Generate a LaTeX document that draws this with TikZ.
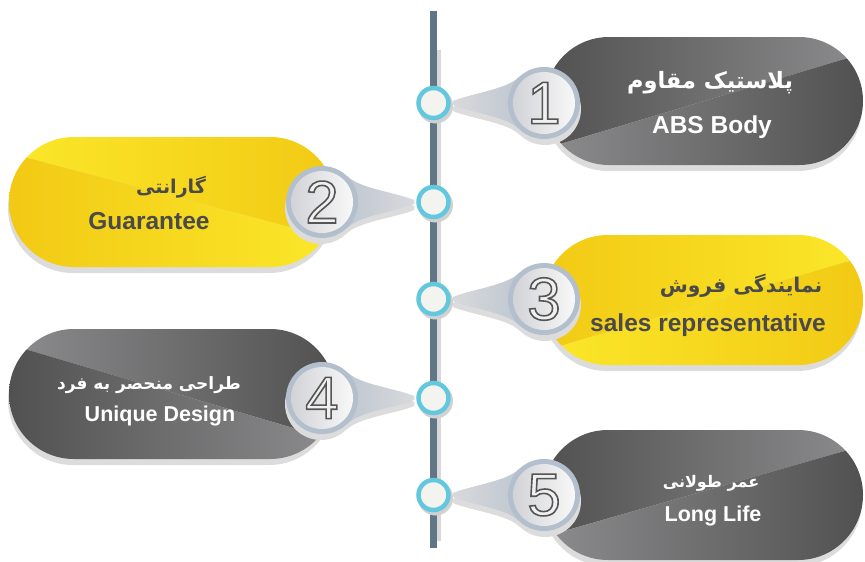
\documentclass[tikz,border=0pt]{standalone}
\usepackage{fontspec}
\setmainfont{Liberation Sans}
\newfontfamily\fa[Script=Arabic]{DejaVu Sans}
\newfontfamily\numfont{Liberation Sans}
\TeXXeTstate=1
\newcommand\outlinedigit[1]{\special{pdf:literal direct 0.333 0.333 0.333 RG 1.6 w 2 Tr}#1\special{pdf:literal direct 0 Tr}}
\usetikzlibrary{calc}
\definecolor{lineC}{HTML}{627587}
\definecolor{lineSh}{HTML}{D8D8D8}
\definecolor{dotRing}{HTML}{63C8DE}
\definecolor{dotFill}{HTML}{F3F3F0}
\definecolor{ringC}{HTML}{B3BFCC}
\definecolor{tailA}{HTML}{D8D9DC}
\definecolor{tailB}{HTML}{B6C1CD}
\definecolor{shC}{HTML}{DCDCDC}
\definecolor{gD}{HTML}{505050}
\definecolor{gL}{HTML}{8D8D8F}
\definecolor{yD}{HTML}{F2C914}
\definecolor{yL}{HTML}{FBE82A}
\definecolor{txtD}{HTML}{4A4A4A}
\definecolor{numFill}{HTML}{F0F0F0}
\definecolor{diskA}{HTML}{D2D3D7}
\definecolor{diskB}{HTML}{F8F8F8}
\tikzset{
 dotnode/.style={circle, draw=dotRing, line width=4.5pt, fill=dotFill, minimum size=30pt, inner sep=0pt},
 ringshape/.style={circle, minimum size=72pt, inner sep=0pt},
 disknode/.style={circle, minimum size=62pt, inner sep=0pt, left color=diskA, right color=diskB},
 numtext/.style={inner sep=0pt, text=numFill, font=\numfont\fontsize{60}{60}\selectfont},
 fatext/.style={inner sep=0pt, font=\fa\bfseries\fontsize{#1}{#1}\selectfont},
 entext/.style={inner sep=0pt, anchor=base, font=\bfseries\fontsize{24.5}{24.5}\selectfont},
 entextS/.style={inner sep=0pt, anchor=base, font=\bfseries\fontsize{21.5}{21.5}\selectfont},
 pillround/.style={rounded corners=64.9pt},
 pillroundA/.style={rounded corners=63.9pt},
}
\begin{document}
\begin{tikzpicture}[x=1pt,y=-1pt]
\useasboundingbox (0,0) rectangle (865,562);
% timeline
\coordinate (ltop) at (433.5,11);
\coordinate (lbot) at (433.5,548);
\fill[lineSh] (436,50) rectangle (440.5,541);
\draw[lineC, line width=6.5pt] (ltop) -- (lbot);

% ---------- pill 1 (right, gray)
\fill[shC, pillroundA] (544,43) rectangle (862,171);
\begin{scope}
\clip[pillroundA] (545,37) rectangle (863,165);
\shade[left color=gD, right color=gL] (540,30) -- (868,30) -- (868,52) -- (540,150.1) -- cycle;
\shade[left color=gL, right color=gD] (540,150.1) -- (868,52) -- (868,172) -- (540,172) -- cycle;
\end{scope}
% ---------- pill 2 (left, yellow)
\fill[shC, pillround] (8,143) rectangle (334,273);
\begin{scope}
\clip[pillround] (9,137) rectangle (335,267);
\shade[left color=yL, right color=yD] (4,130) -- (340,130) -- (340,240.3) -- (4,151.7) -- cycle;
\shade[left color=yD, right color=yL] (4,151.7) -- (340,240.3) -- (340,274) -- (4,274) -- cycle;
\end{scope}
% ---------- pill 3 (right, yellow)
\fill[shC, pillround] (542,241) rectangle (862,371);
\begin{scope}
\clip[pillround] (543,235) rectangle (863,365);
\shade[left color=yD, right color=yL] (538,228) -- (868,228) -- (868,255.5) -- (538,352.6) -- cycle;
\shade[left color=yL, right color=yD] (538,352.6) -- (868,255.5) -- (868,372) -- (538,372) -- cycle;
\end{scope}
% ---------- pill 4 (left, gray)
\fill[shC, pillround] (8,335) rectangle (334,465);
\begin{scope}
\clip[pillround] (9,329) rectangle (335,459);
\shade[left color=gL, right color=gD] (4,322) -- (340,322) -- (340,441.8) -- (4,342.9) -- cycle;
\shade[left color=gD, right color=gL] (4,342.9) -- (340,441.8) -- (340,466) -- (4,466) -- cycle;
\end{scope}
% ---------- pill 5 (right, gray)
\fill[shC, pillround] (542,436) rectangle (862,566);
\begin{scope}
\clip[pillround] (543,430) rectangle (863,560);
\shade[left color=gD, right color=gL] (538,424) -- (868,424) -- (868,444.3) -- (538,538.4) -- cycle;
\shade[left color=gL, right color=gD] (538,538.4) -- (868,444.3) -- (868,566) -- (538,566) -- cycle;
\end{scope}

% ---------- dots and number circles (positions)
\path (433.5,103) coordinate (p1) (544,103) coordinate (q1)
      (433.5,202) coordinate (p2) (322,202) coordinate (q2)
      (433.5,299) coordinate (p3) (544,299) coordinate (q3)
      (433.5,398) coordinate (p4) (322,398) coordinate (q4)
      (433.5,495) coordinate (p5) (544,495) coordinate (q5);
\foreach \i in {1,...,5}{
  \node[ringshape] (n\i) at (q\i) {};
  \node[dotnode, draw=none, fill=none] (d\i) at (p\i) {};
}

% shadows of tails and circles
\foreach \i in {1,3,5}{
  \fill[shC] ($(n\i.center)+(1,6)$) circle (36);
  \fill[shC] ($(d\i.east)+(2,4)$) .. controls +(20,-8) and +(-12,12) .. ($(n\i.135)+(1,6)$)
     -- ($(n\i.center)+(1,6)$) -- ($(n\i.225)+(1,6)$) .. controls +(-12,-12) and +(20,8) .. ($(d\i.east)+(2,8)$) -- cycle;
}
\foreach \i in {2,4}{
  \fill[shC] ($(n\i.center)+(-1,6)$) circle (36);
  \fill[shC] ($(d\i.west)+(-2,4)$) .. controls +(-20,-8) and +(12,12) .. ($(n\i.45)+(-1,6)$)
     -- ($(n\i.center)+(-1,6)$) -- ($(n\i.315)+(-1,6)$) .. controls +(12,-12) and +(-20,8) .. ($(d\i.west)+(-2,8)$) -- cycle;
}

% tails (connectors from dot to number circle)
\foreach \i in {1,3,5}{
  \shade[left color=tailA, right color=tailB] ($(d\i.east)+(2,-2)$) .. controls +(20,-8) and +(-12,12) .. (n\i.135)
     -- (n\i.center) -- (n\i.225) .. controls +(-12,-12) and +(20,8) .. ($(d\i.east)+(2,2)$) -- cycle;
}
\foreach \i in {2,4}{
  \shade[left color=tailB, right color=tailA] ($(d\i.west)+(-2,-2)$) .. controls +(-20,-8) and +(12,12) .. (n\i.45)
     -- (n\i.center) -- (n\i.315) .. controls +(12,-12) and +(-20,8) .. ($(d\i.west)+(-2,2)$) -- cycle;
}
% number circles
\foreach \i in {1,...,5}{
  \fill[ringC] (n\i.center) circle (36);
  \node[disknode] (m\i) at (n\i.center) {};
  \node[numtext] (k\i) at (n\i.center) {\outlinedigit{\i}};
}

% dots
\foreach \i in {1,...,5}{
  \fill[black!18] ($(p\i)+(2,3)$) circle (17.5);
  \node[dotnode] (e\i) at (p\i) {};
}

% texts
\node[fatext=22.5, text=white] (t1a) at (710,83) {\beginR پلاستیک مقاوم\endR};
\node[entext, text=white] (t1b) at (712,133) {ABS Body};
\node[fatext=19, text=txtD] (t2a) at (171,187) {\beginR گارانتی\endR};
\node[entext, text=txtD] (t2b) at (149,229) {Guarantee};
\node[fatext=20.3, text=txtD] (t3a) at (741,286) {\beginR نمایندگی فروش\endR};
\node[entext, text=txtD] (t3b) at (708,331) {sales representative};
\node[fatext=17, text=white] (t4a) at (149,385) {\beginR طراحی منحصر به فرد\endR};
\node[entextS, text=white] (t4b) at (160,421) {Unique Design};
\node[fatext=16, text=white] (t5a) at (711,483) {\beginR عمر طولانی\endR};
\node[entextS, text=white] (t5b) at (713,521) {Long Life};
\end{tikzpicture}
\end{document}
